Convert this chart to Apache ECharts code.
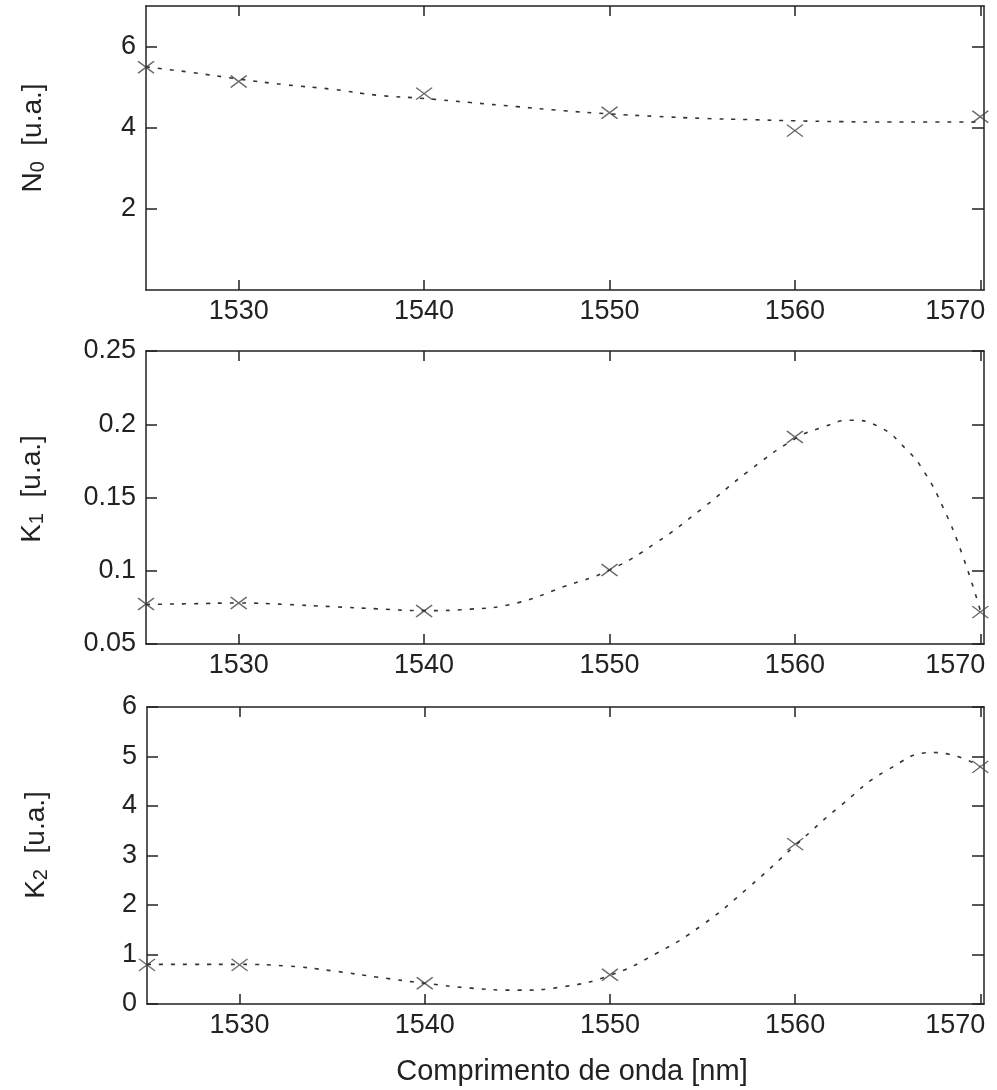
<!DOCTYPE html>
<html>
<head>
<meta charset="utf-8">
<script src="https://cdn.jsdelivr.net/npm/echarts@6/dist/echarts.min.js"></script>
<style>
html,body{margin:0;padding:0;background:#fff;}
#chart{width:997px;height:1090px;}
</style>
</head>
<body>
<div id="chart"></div>
<script>
// ---- data ----
const xTicks = [1530, 1540, 1550, 1560, 1570];
const n0Ticks = [2, 4, 6];
const k1Ticks = [0.05, 0.1, 0.15, 0.2, 0.25];
const k2Ticks = [0, 1, 2, 3, 4, 5, 6];

const markX = [1525, 1530, 1540, 1550, 1560, 1570];
const n0Mark = [5.49, 5.14, 4.84, 4.37, 3.93, 4.27];
const k1Mark = [0.0773, 0.078, 0.0725, 0.1005, 0.1913, 0.0718];
const k2Mark = [0.79, 0.79, 0.42, 0.59, 3.23, 4.79];

const n0FitX = [1525, 1527.5, 1530, 1532.5, 1535, 1537.5, 1540, 1542.5, 1545, 1547.5, 1550, 1552.5, 1555, 1557.5, 1560, 1562.5, 1565, 1567.5, 1570];
const n0FitY = [5.5, 5.36, 5.2, 5.06, 4.95, 4.8, 4.72, 4.62, 4.52, 4.42, 4.34, 4.28, 4.23, 4.2, 4.17, 4.15, 4.14, 4.14, 4.14];

const k1FitX = [1525, 1527.5, 1530, 1532.5, 1535, 1537.5, 1540, 1542.5, 1545, 1547.5, 1550, 1552.5, 1555, 1557.5, 1560, 1561.5, 1563, 1564.5, 1566, 1567, 1568, 1569, 1570];
const k1FitY = [0.077, 0.0775, 0.078, 0.077, 0.0755, 0.074, 0.0728, 0.0738, 0.078, 0.089, 0.1005, 0.119, 0.1425, 0.168, 0.19, 0.198, 0.2027, 0.1985, 0.183, 0.167, 0.143, 0.112, 0.073];

const k2FitX = [1525, 1527.5, 1530, 1532.5, 1535, 1537.5, 1540, 1542.5, 1545, 1547.5, 1550, 1552.5, 1555, 1557.5, 1560, 1562.5, 1565, 1567.5, 1570];
const k2FitY = [0.8, 0.8, 0.8, 0.77, 0.67, 0.54, 0.42, 0.32, 0.28, 0.35, 0.58, 1.02, 1.6, 2.36, 3.2, 4.02, 4.73, 5.08, 4.8];

// ---- styling ----
const FONT = '"Liberation Sans", Arial, sans-serif';
const INK = '#222';
const grids = [
  {left: 146, right: 13, top: 6, height: 284},
  {left: 146, right: 13, top: 351, height: 293},
  {left: 147, right: 13, top: 707, height: 297}
];
const yRanges = [[0, 7, n0Ticks], [0.05, 0.25, k1Ticks], [0, 6, k2Ticks]];

const pair = (xs, ys) => xs.map((x, i) => [x, ys[i]]);

const xAxes = [];
const yAxes = [];
grids.forEach((g, i) => {
  xAxes.push({
    type: 'value', gridIndex: i, min: 1525, max: 1570.2, position: 'bottom',
    axisLine: {show: true, onZero: false, lineStyle: {color: INK, width: 1.5}},
    axisTick: {show: true, inside: true, length: 10, customValues: xTicks, lineStyle: {color: INK, width: 1.5}},
    axisLabel: {
      show: true, customValues: xTicks, margin: 8, color: INK, fontSize: 27, fontFamily: FONT,
      formatter: v => (v === 1570 ? '{r|1570}' : String(v)),
      rich: {r: {padding: [0, 50, 0, 0], fontSize: 27, fontFamily: FONT, color: INK}}
    },
    splitLine: {show: false}
  });
  yAxes.push({
    type: 'value', gridIndex: i, min: yRanges[i][0], max: yRanges[i][1], position: 'left',
    axisLine: {show: true, onZero: false, lineStyle: {color: INK, width: 1.5}},
    axisTick: {show: true, inside: true, length: 11, customValues: yRanges[i][2], lineStyle: {color: INK, width: 1.5}},
    axisLabel: {show: true, customValues: yRanges[i][2], margin: 10, color: INK, fontSize: 27, fontFamily: FONT},
    splitLine: {show: false}
  });
});
grids.forEach((g, i) => {
  xAxes.push({
    type: 'value', gridIndex: i, min: 1525, max: 1570.2, position: 'top',
    axisLine: {show: true, onZero: false, lineStyle: {color: INK, width: 1.5}},
    axisTick: {show: true, inside: true, length: 10, customValues: xTicks, lineStyle: {color: INK, width: 1.5}},
    axisLabel: {show: false},
    splitLine: {show: false}
  });
  yAxes.push({
    type: 'value', gridIndex: i, min: yRanges[i][0], max: yRanges[i][1], position: 'right',
    axisLine: {show: true, onZero: false, lineStyle: {color: INK, width: 1.5}},
    axisTick: {show: true, inside: true, length: 12, customValues: yRanges[i][2], lineStyle: {color: INK, width: 1.5}},
    axisLabel: {show: false},
    splitLine: {show: false}
  });
});

const fitLine = (i, data) => ({
  type: 'line', xAxisIndex: i, yAxisIndex: i, data: data, smooth: true,
  showSymbol: false, silent: true, clip: true,
  lineStyle: {color: '#333', width: 1.6, type: [4, 8]}
});
const marks = (i, data) => ({
  type: 'scatter', xAxisIndex: i, yAxisIndex: i, data: data, silent: true,
  symbol: 'path://M0,0L10,10M10,0L0,10', symbolSize: [16, 12],
  itemStyle: {color: 'none', borderColor: '#444', borderWidth: 1.4}
});

const richName = {
  m: {fontSize: 28, lineHeight: 30, fontFamily: FONT, fill: INK, color: INK},
  s: {fontSize: 20, lineHeight: 8, verticalAlign: 'bottom', fontFamily: FONT, fill: INK, color: INK}
};
const yName = (x, y, letter, sub) => ({
  type: 'text', x: x, y: y, rotation: Math.PI / 2,
  style: {
    text: '{m|' + letter + '}{s|' + sub + '}{m|  [u.a.]}',
    rich: richName, align: 'center', verticalAlign: 'middle', fill: INK
  }
});

const option = {
  animation: false,
  backgroundColor: '#fff',
  grid: grids,
  xAxis: xAxes,
  yAxis: yAxes,
  series: [
    fitLine(0, pair(n0FitX, n0FitY)), marks(0, pair(markX, n0Mark)),
    fitLine(1, pair(k1FitX, k1FitY)), marks(1, pair(markX, k1Mark)),
    fitLine(2, pair(k2FitX, k2FitY)), marks(2, pair(markX, k2Mark))
  ],
  graphic: [
    yName(33, 138, 'N', '0'),
    yName(32, 489, 'K', '1'),
    yName(36, 845, 'K', '2'),
    {
      type: 'text', x: 572, y: 1072,
      style: {text: 'Comprimento de onda [nm]', fontSize: 29, fontFamily: FONT, fill: INK, align: 'center', verticalAlign: 'middle'}
    }
  ]
};

const chart = echarts.init(document.getElementById('chart'), null, {renderer: 'canvas'});
chart.setOption(option);
</script>
</body>
</html>
